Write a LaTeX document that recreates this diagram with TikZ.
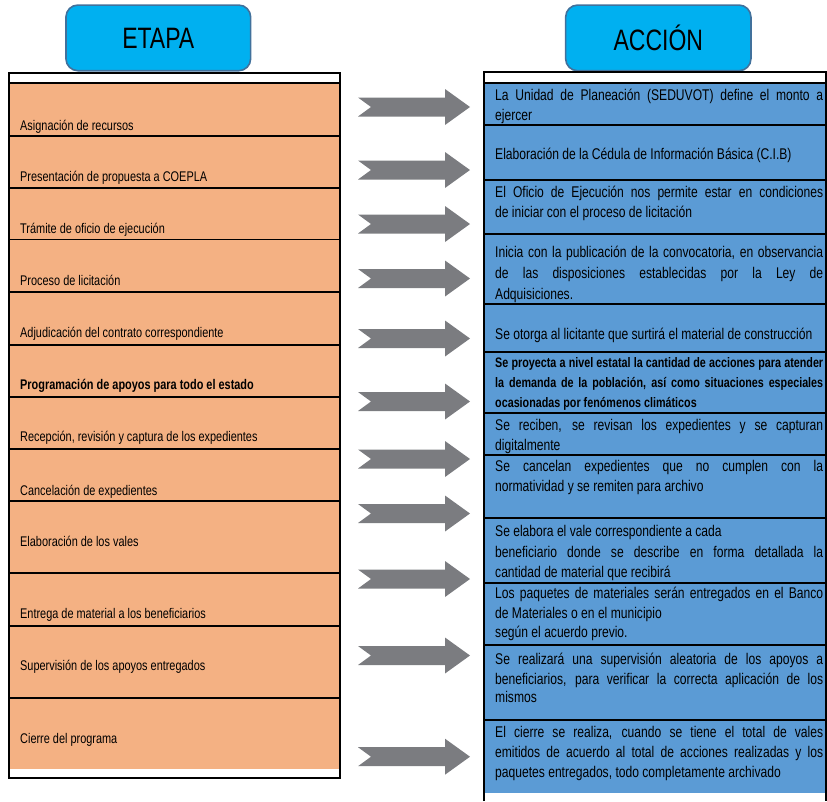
\documentclass[tikz,border=0pt]{standalone}
\usepackage{fontspec}
\setmainfont{Liberation Sans}[FakeStretch=0.78]
\definecolor{orangefill}{HTML}{F4B183}
\definecolor{bluefill}{HTML}{5B9BD5}
\definecolor{headfill}{HTML}{00B0F0}
\definecolor{headdraw}{HTML}{41719C}
\definecolor{arrowgray}{HTML}{7B7C80}
\newcommand\jl[1]{\makebox[328pt][s]{#1}}
\newcommand\blockarr[1]{\fill[arrowgray] (358,{#1-9.5}) -- (445,{#1-9.5}) -- (445,{#1-18}) -- (470,#1) -- (445,{#1+18}) -- (445,{#1+9.5}) -- (358,{#1+9.5}) -- (371,#1) -- cycle;}
\begin{document}
\begin{tikzpicture}[x=1pt,y=-1pt,
  lt/.style={anchor=base west, inner sep=0pt, font=\fontsize{14}{16}\selectfont},
  ltb/.style={anchor=base west, inner sep=0pt, font=\fontsize{14}{16}\selectfont\bfseries},
  rt/.style={anchor=base west, inner sep=0pt, font=\fontsize{15.5}{20}\selectfont},
  rtb/.style={anchor=base west, inner sep=0pt, font=\fontsize{13.8}{20}\selectfont\bfseries},
  header/.style={draw=headdraw, line width=1.6pt, fill=headfill, rounded corners=12pt,
    minimum height=65.7pt, inner sep=0pt, font=\fontsize{29.5}{31}\selectfont},
  sep/.style={line width=1.6pt},
  frame/.style={line width=2pt}
]
\useasboundingbox (0,0) rectangle (827,801);

% headers
\node[header, minimum width=184.7pt] (etapa) at (158.3,37.9) {ETAPA};
\node[header, minimum width=185.3pt] (accion) at (658.3,37.9) {ACCIÓN};

% left table
\fill[orangefill] (9,83) rectangle (339.5,769);
\foreach \yy in {83,136,188,239.5,291.7,345,397,449,500.7,572.7,626,697.7}
  \draw[sep] (9,\yy) -- (339.5,\yy);
\draw[frame] (9,72.7) rectangle (339.5,778);

% right table
\fill[bluefill] (484,83) rectangle (826,793);
\foreach \yy in {83,125,180,234,304,351.7,413,455,518,582.7,645,720}
  \draw[sep] (484,\yy) -- (826,\yy);
\draw[frame] (484,801) -- (484,71.7) -- (826,71.7) -- (826,801);

% left texts
\node[lt]  (l1)  at (20,130.7) {Asignación de recursos};
\node[lt]  (l2)  at (20,181.7) {Presentación de propuesta a COEPLA};
\node[lt]  (l3)  at (20,233.3) {Trámite de oficio de ejecución};
\node[lt]  (l4)  at (20,285)   {Proceso de licitación};
\node[lt]  (l5)  at (20,337.7) {Adjudicación del contrato correspondiente};
\node[ltb] (l6)  at (20,389.3) {Programación de apoyos para todo el estado};
\node[lt]  (l7)  at (20,441.7) {Recepción, revisión y captura de los expedientes};
\node[lt]  (l8)  at (20,495)   {Cancelación de expedientes};
\node[lt]  (l9)  at (20,546.7) {Elaboración de los vales};
\node[lt]  (l10) at (20,618.3) {Entrega de material a los beneficiarios};
\node[lt]  (l11) at (20,670.7) {Supervisión de los apoyos entregados};
\node[lt]  (l12) at (20,743.3) {Cierre del programa};

% right texts
\node[rt] (r1a) at (495,100) {\jl{La Unidad de Planeación (SEDUVOT) define el monto a}};
\node[rt] (r1b) at (495,120) {ejercer};
\node[rt] (r2a) at (495,159) {Elaboración de la Cédula de Información Básica (C.I.B)};
\node[rt] (r3a) at (495,197) {\jl{El Oficio de Ejecución nos permite estar en condiciones}};
\node[rt] (r3b) at (495,217) {de iniciar con el proceso de licitación};
\node[rt] (r4a) at (495,257) {\jl{Inicia con la publicación de la convocatoria, en observancia}};
\node[rt] (r4b) at (495,278) {\jl{de las disposiciones establecidas por la Ley de}};
\node[rt] (r4c) at (495,299) {Adquisiciones.};
\node[rt] (r5a) at (495,339) {Se otorga al licitante que surtirá el material de construcción};
\node[rtb] (r6a) at (495,367) {\jl{Se proyecta a nivel estatal la cantidad de acciones para atender}};
\node[rtb] (r6b) at (495,387) {\jl{la demanda de la población, así como situaciones especiales}};
\node[rtb] (r6c) at (495,407) {ocasionadas por fenómenos climáticos};
\node[rt] (r7a) at (495,430) {\jl{Se reciben, se revisan los expedientes y se capturan}};
\node[rt] (r7b) at (495,450) {digitalmente};
\node[rt] (r8a) at (495,471.7) {\jl{Se cancelan expedientes que no cumplen con la}};
\node[rt] (r8b) at (495,491.7) {normatividad y se remiten para archivo};
\node[rt] (r9a) at (495,536.7) {Se elabora el vale correspondiente a cada};
\node[rt] (r9b) at (495,557) {\jl{beneficiario donde se describe en forma detallada la}};
\node[rt] (r9c) at (495,577) {cantidad de material que recibirá};
\node[rt] (r10a) at (495,598) {\jl{Los paquetes de materiales serán entregados en el Banco}};
\node[rt] (r10b) at (495,618.3) {de Materiales o en el municipio};
\node[rt] (r10c) at (495,637.5) {según el acuerdo previo.};
\node[rt] (r11a) at (495,664) {\jl{Se realizará una supervisión aleatoria de los apoyos a}};
\node[rt] (r11b) at (495,684) {\jl{beneficiarios, para verificar la correcta aplicación de los}};
\node[rt] (r11c) at (495,702) {mismos};
\node[rt] (r12a) at (495,737) {\jl{El cierre se realiza, cuando se tiene el total de vales}};
\node[rt] (r12b) at (495,757) {\jl{emitidos de acuerdo al total de acciones realizadas y los}};
\node[rt] (r12c) at (495,777) {paquetes entregados, todo completamente archivado};

% block arrows
\foreach \cy in {107,170,224,278.5,338.5,401.5,459,513.5,579,655.5,756.7}
  {\blockarr{\cy}}
\end{tikzpicture}
\end{document}
